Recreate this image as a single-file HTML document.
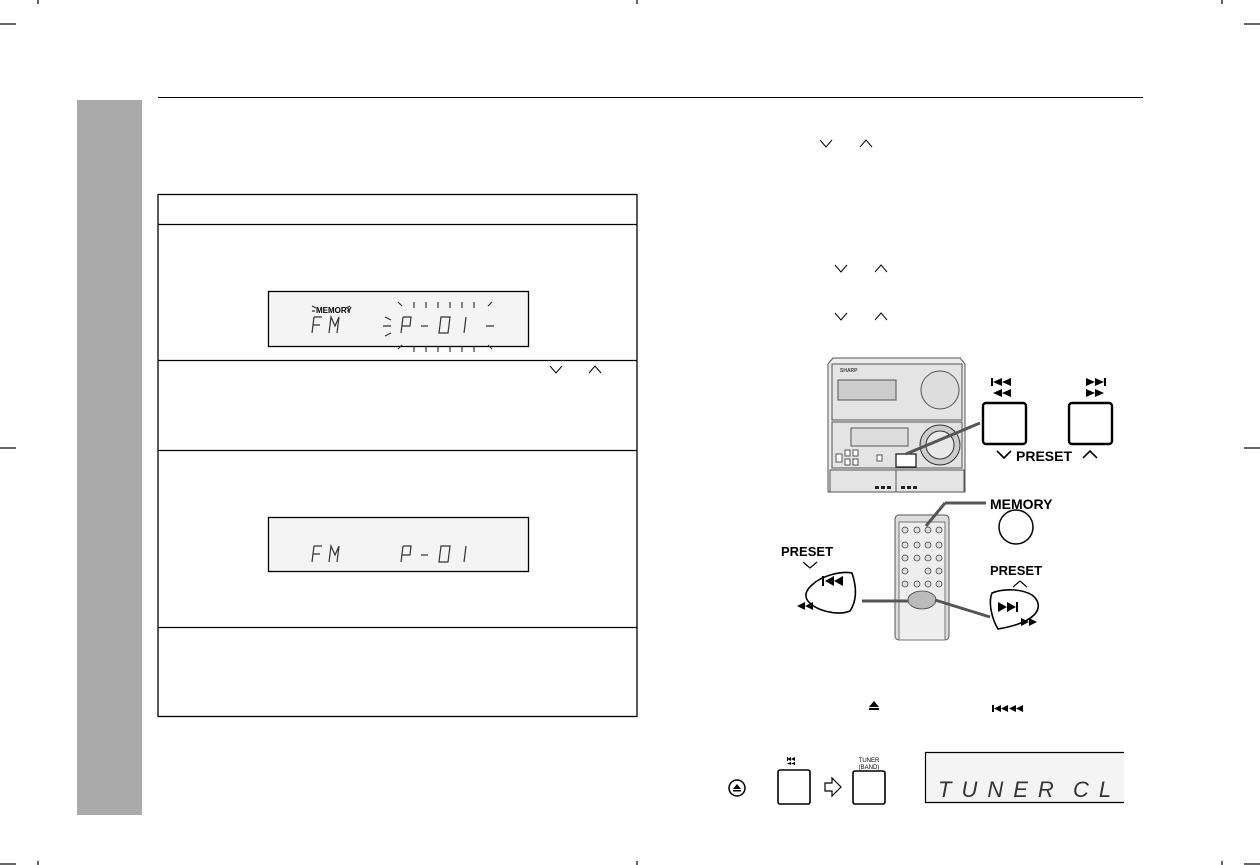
<!DOCTYPE html>
<html><head><meta charset="utf-8"><style>
html,body{margin:0;padding:0;background:#fff}
svg{display:block}
text{font-family:"Liberation Sans",Arial,sans-serif}
</style></head><body>
<svg width="1260" height="865" viewBox="0 0 1260 865" xmlns="http://www.w3.org/2000/svg">
<g stroke="#000" stroke-width="1.2">
<line x1="38" y1="0" x2="38" y2="4"/><line x1="637" y1="0" x2="637" y2="4"/><line x1="1222" y1="0" x2="1222" y2="4"/>
<line x1="0" y1="24" x2="16" y2="24"/><line x1="1244" y1="24" x2="1260" y2="24"/>
<line x1="0" y1="448" x2="16" y2="448"/><line x1="1244" y1="448" x2="1260" y2="448"/>
<line x1="0" y1="864" x2="16" y2="864"/><line x1="1244" y1="864" x2="1260" y2="864"/>
<line x1="38" y1="861" x2="38" y2="865"/><line x1="637" y1="861" x2="637" y2="865"/><line x1="1222" y1="861" x2="1222" y2="865"/>
</g>
<rect x="77" y="100" width="65" height="715" fill="#aaa"/>
<line x1="158" y1="97.5" x2="1143" y2="97.5" stroke="#000" stroke-width="1"/>
<g fill="none" stroke="#000" stroke-width="1.3">
<rect x="158" y="194.5" width="479" height="522"/>
<line x1="158" y1="224.5" x2="637" y2="224.5"/>
<line x1="158" y1="360.5" x2="637" y2="360.5"/>
<line x1="158" y1="450.5" x2="637" y2="450.5"/>
<line x1="158" y1="627.5" x2="637" y2="627.5"/>
</g>
<g fill="none" stroke="#000" stroke-width="1">
<path d="M820 140l6 7 6-7M860 147l6-7 6 7"/>
<path d="M835 265l6 7 6-7M875 272l6-7 6 7"/>
<path d="M835 313l6 7 6-7M875 320l6-7 6 7"/>
<path d="M550 366l6 7 6-7M589 373l6-7 6 7"/>
</g>
<rect x="268.5" y="291.5" width="260" height="55" fill="#f4f4f4" stroke="#000" stroke-width="1.3"/>
<text x="316" y="313" font-size="8" font-weight="bold">MEMORY</text>
<g stroke="#333" stroke-width="1.2" fill="none">
<path d="M312 306l4 2M312 311h3M350 306l-4 2M350 311h-3"/>
<path d="M314 317l-2 16M314 317h8M313 325h7"/>
<path d="M329 333l2-16 4 9 4-9-2 16"/>
<path d="M403 317l-2 16M403 317h8l-1 9h-8"/>
<path d="M421 326h7"/>
<path d="M441 317h9l-2 16h-9z"/>
<path d="M466 317l-2 16"/>
<path d="M414 302v6M426 302v6M438 302v6M450 302v6M462 302v6M474 302v6M398 302l4 4M488 306l4-4"/>
<path d="M414 346v6M426 346v6M438 346v6M450 346v6M462 346v6M474 346v6M398 349l4-4M488 345l4 4"/>
<path d="M383 326h8M486 326h8M385 317l6 3M385 336l6-3"/>
</g>
<rect x="268.5" y="517.5" width="260" height="54" fill="#f4f4f4" stroke="#000" stroke-width="1.3"/>
<g stroke="#333" stroke-width="1.2" fill="none">
<path d="M314 546l-2 16M314 546h8M313 554h7"/>
<path d="M329 562l2-16 4 9 4-9-2 16"/>
<path d="M403 546l-2 16M403 546h8l-1 9h-8"/>
<path d="M421 555h7"/>
<path d="M441 546h9l-2 16h-9z"/>
<path d="M466 546l-2 16"/>
</g>
<g stroke="#555" stroke-width="1" fill="#ececec">
<path d="M828 492V364l5-6h127l5 6v128z"/>
<rect x="832" y="364" width="130" height="56" fill="#e4e4e4"/>
<rect x="838" y="380" width="58" height="20" fill="#ccc"/>
<circle cx="940" cy="390" r="19" fill="#ddd"/>
<rect x="832" y="422" width="130" height="46" fill="#e4e4e4"/>
<rect x="851" y="428" width="57" height="18" fill="#ddd"/>
<circle cx="940" cy="445" r="20" fill="#ccc" stroke="#333"/>
<circle cx="940" cy="445" r="14" fill="#e8e8e8" stroke="#333"/>
<rect x="836" y="454" width="6" height="8" fill="#fff"/><rect x="845" y="450" width="5" height="6" fill="#fff"/><rect x="853" y="450" width="5" height="6" fill="#fff"/>
<rect x="845" y="459" width="5" height="6" fill="#fff"/><rect x="853" y="459" width="5" height="6" fill="#fff"/>
<rect x="877" y="455" width="5" height="6" fill="#fff"/>
<rect x="896" y="454" width="20" height="13" fill="#fff" stroke="#222" stroke-width="1.3"/>
<rect x="830" y="470" width="134" height="22" fill="#e4e4e4"/>
<line x1="896" y1="470" x2="896" y2="492"/>
</g>
<text x="840" y="372" font-size="5" font-weight="bold" fill="#444">SHARP</text>
<g fill="#222"><rect x="875" y="486" width="4" height="3"/><rect x="881" y="486" width="4" height="3"/><rect x="887" y="486" width="4" height="3"/><rect x="901" y="486" width="4" height="3"/><rect x="907" y="486" width="4" height="3"/><rect x="913" y="486" width="4" height="3"/></g>
<line x1="906" y1="454" x2="980" y2="423" stroke="#555" stroke-width="3"/>
<g fill="#fff" stroke="#000" stroke-width="2.4">
<rect x="983" y="403" width="43" height="41" rx="3"/>
<rect x="1069" y="403" width="43" height="41" rx="3"/>
</g>
<g fill="#000">
<rect x="991" y="378" width="2" height="8"/><path d="M1002 378v8l-9-4zM1011 378v8l-9-4zM1002 389v8l-9-4zM1011 389v8l-9-4z"/>
<rect x="1104" y="378" width="2" height="8"/><path d="M1086 378v8l9-4zM1095 378v8l9-4zM1086 389v8l9-4zM1095 389v8l9-4z"/>
</g>
<path d="M997 451l7 7 7-7M1083 458l7-7 7 7" fill="none" stroke="#000" stroke-width="1.6"/>
<text x="1016" y="461" font-size="14" font-weight="bold">PRESET</text>
<rect x="895" y="515" width="54" height="125" rx="4" fill="#ddd" stroke="#555"/>
<rect x="899" y="522" width="46" height="118" fill="#eee" stroke="#777"/>
<g fill="#ddd" stroke="#444" stroke-width="0.8">
<circle cx="905" cy="530" r="3"/><circle cx="917" cy="530" r="3"/><circle cx="928" cy="530" r="3"/><circle cx="939" cy="530" r="3"/>
<circle cx="905" cy="545" r="3"/><circle cx="917" cy="545" r="3"/><circle cx="928" cy="545" r="3"/><circle cx="939" cy="545" r="3"/>
<circle cx="905" cy="558" r="3"/><circle cx="917" cy="558" r="3"/><circle cx="928" cy="558" r="3"/><circle cx="939" cy="558" r="3"/>
<circle cx="905" cy="571" r="3"/><circle cx="928" cy="571" r="3"/><circle cx="939" cy="571" r="3"/>
<circle cx="905" cy="584" r="3"/><circle cx="917" cy="584" r="3"/><circle cx="928" cy="584" r="3"/><circle cx="939" cy="584" r="3"/>
<ellipse cx="922" cy="600" rx="14" ry="9" fill="#bbb"/>
</g>
<line x1="926" y1="526" x2="945" y2="503" stroke="#555" stroke-width="3"/>
<line x1="945" y1="503" x2="986" y2="503" stroke="#555" stroke-width="3"/>
<text x="990" y="509" font-size="14" font-weight="bold">MEMORY</text>
<circle cx="1016" cy="527" r="17" fill="#fff" stroke="#000" stroke-width="1.5"/>
<line x1="862" y1="601" x2="908" y2="601" stroke="#555" stroke-width="3"/>
<line x1="935" y1="600" x2="990" y2="617" stroke="#555" stroke-width="3"/>
<text x="781" y="556" font-size="13" font-weight="bold">PRESET</text>
<path d="M803 562l7 6 7-6" fill="none" stroke="#000" stroke-width="1.2"/>
<path d="M812 585c10-10 30-14 40-12 4 12 6 26-2 38-12 5-34 0-42-10-4-5-2-11 4-16z" fill="#fff" stroke="#000" stroke-width="1.6"/>
<rect x="822" y="576" width="2" height="10"/>
<path d="M834 576v10l-9-5zM843 576v10l-9-5z"/>
<path d="M805 602v8l-8-4zM813 602v8l-8-4z"/>
<text x="990" y="575" font-size="13" font-weight="bold">PRESET</text>
<path d="M1013 587l7-6 7 6" fill="none" stroke="#000" stroke-width="1.2"/>
<path d="M992 593c12-5 30-4 40 2 8 6 8 14 2 20-8 8-24 12-36 14-6-10-10-26-6-36z" fill="#fff" stroke="#000" stroke-width="1.6"/>
<path d="M998 602v10l9-5zM1007 602v10l9-5z"/><rect x="1016" y="602" width="2" height="10"/>
<path d="M1021 618v8l8-4zM1029 618v8l8-4z"/>
<path d="M869 707l5-6 5 6z" fill="#000"/><rect x="869" y="708" width="10" height="2" fill="#000"/>
<g fill="#000"><rect x="992" y="705" width="2" height="7"/><path d="M1001 705v7l-7-3.5zM1008 705v7l-7-3.5zM1016 705v7l-7-3.5zM1023 705v7l-7-3.5z"/></g>
<circle cx="737" cy="788" r="8" fill="#fff" stroke="#000" stroke-width="1.5"/>
<path d="M733 789l4-5 4 5z" fill="#000"/><rect x="733" y="790" width="8" height="1.5" fill="#000"/>
<g fill="#000"><rect x="787" y="757" width="1" height="4"/><path d="M791 757v4l-4-2zM795 757v4l-4-2zM791 762v3l-4-1.5zM795 762v3l-4-1.5z"/></g>
<rect x="778" y="770" width="32" height="34" rx="2" fill="#fff" stroke="#000" stroke-width="1.6"/>
<path d="M825 783h7v-5l9 9-9 9v-5h-7z" fill="#fff" stroke="#000" stroke-width="1.2"/>
<text x="869" y="762" font-size="6" text-anchor="middle">TUNER</text>
<text x="869" y="769" font-size="6" text-anchor="middle">(BAND)</text>
<rect x="853" y="771" width="32" height="33" rx="2" fill="#fff" stroke="#000" stroke-width="1.6"/>
<path d="M1124 752.5H925.5v50H1124" fill="#f4f4f4" stroke="#000" stroke-width="1.2"/>
<text x="938" y="797" font-size="22" font-style="italic" fill="#333" letter-spacing="10" font-family="Liberation Sans">TUNER</text>
<text x="1073" y="797" font-size="22" font-style="italic" fill="#333" letter-spacing="10" font-family="Liberation Sans">CL</text>
</svg>
</body></html>
